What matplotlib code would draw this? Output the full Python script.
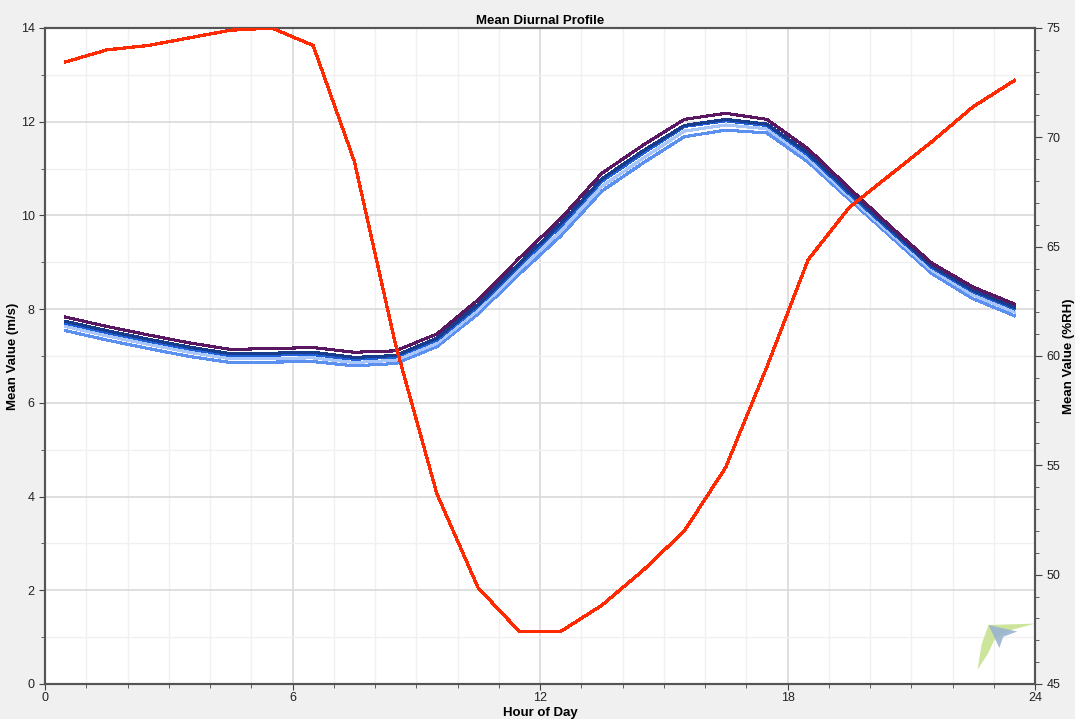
import numpy as np
import matplotlib.pyplot as plt
from matplotlib.ticker import MultipleLocator
from matplotlib.patches import Polygon

plt.rcParams['font.family'] = ['Liberation Sans', 'DejaVu Sans']

hours = [h + 0.5 for h in range(24)]

# wind speed (m/s) series, top to bottom
ws_purple = [7.83, 7.63, 7.45, 7.28, 7.14, 7.16, 7.18, 7.08, 7.11, 7.47, 8.20, 9.09,
             9.93, 10.90, 11.50, 12.05, 12.18, 12.05, 11.42, 10.58, 9.76, 8.98, 8.47, 8.11]
ws_navy = [7.74, 7.54, 7.36, 7.19, 7.05, 7.06, 7.08, 6.97, 7.01, 7.38, 8.10, 8.98,
           9.82, 10.78, 11.38, 11.92, 12.05, 11.95, 11.33, 10.50, 9.70, 8.92, 8.40, 8.04]
ws_blue = [7.70, 7.50, 7.32, 7.15, 7.01, 7.02, 7.03, 6.93, 6.98, 7.34, 8.06, 8.93,
           9.77, 10.73, 11.33, 11.90, 12.02, 11.92, 11.29, 10.46, 9.67, 8.89, 8.37, 8.01]
ws_light = [7.63, 7.43, 7.25, 7.08, 6.94, 6.95, 6.96, 6.86, 6.91, 7.27, 7.98, 8.84,
            9.66, 10.62, 11.22, 11.80, 11.93, 11.85, 11.22, 10.40, 9.61, 8.83, 8.30, 7.94]
ws_mid = [7.54, 7.34, 7.16, 6.99, 6.86, 6.87, 6.88, 6.79, 6.84, 7.20, 7.90, 8.75,
          9.56, 10.52, 11.12, 11.68, 11.82, 11.76, 11.14, 10.34, 9.55, 8.76, 8.22, 7.86]

# relative humidity (%RH)
rh = [73.45, 74.0, 74.2, 74.55, 74.9, 75.0, 74.2, 68.9, 60.5, 53.7, 49.4, 47.4,
      47.4, 48.6, 50.2, 52.0, 54.9, 59.5, 64.4, 66.8, 68.3, 69.8, 71.4, 72.6]

fig = plt.figure(figsize=(10.75, 7.19), dpi=100, facecolor='#f0f0f0')
ax = fig.add_axes([45 / 1075, 35 / 719, 990 / 1075, 656 / 719])
ax.set_facecolor('white')

for vals, col in [(ws_mid, '#5b8ff0'), (ws_light, '#a8c6fa'), (ws_blue, '#1f5fd8'),
                  (ws_navy, '#173d8c'), (ws_purple, '#5a1862')]:
    ax.plot(hours, vals, color=col, lw=1.5, antialiased=False, zorder=3)

ax.set_xlim(0, 24)
ax.set_ylim(0, 14)
ax.xaxis.set_major_locator(MultipleLocator(6))
ax.xaxis.set_minor_locator(MultipleLocator(1))
ax.yaxis.set_major_locator(MultipleLocator(2))
ax.yaxis.set_minor_locator(MultipleLocator(1))
ax.grid(which='major', color='#d9d9d9', lw=1.2, zorder=0)
ax.grid(which='minor', color='#f0f0f0', lw=1, zorder=0)
ax.set_axisbelow(True)
ax.tick_params(which='both', direction='out', colors='#444444', labelcolor='#222222',
               labelsize=9, length=3)
ax.tick_params(which='major', length=4)
ax.tick_params(axis='x', pad=2)
for s in ax.spines.values():
    s.set_color('#555555')
    s.set_linewidth(1.5)

ax.set_xlabel('Hour of Day', fontsize=9.5, fontweight='bold')
ax.xaxis.set_label_coords(0.5, -0.035)
ax.set_ylabel('Mean Value (m/s)', fontsize=9.5, fontweight='bold')
ax.yaxis.set_label_coords(-0.026, 0.5)
ax.set_title('Mean Diurnal Profile', fontsize=9.5, fontweight='bold', pad=3)

ax2 = ax.twinx()
ax2.plot(hours, rh, color='#ff2a00', lw=1.6, antialiased=False, zorder=4)
ax2.set_ylim(45, 75)
ax2.yaxis.set_major_locator(MultipleLocator(5))
ax2.yaxis.set_minor_locator(MultipleLocator(1))
ax2.tick_params(which='both', direction='out', colors='#444444', labelcolor='#222222',
                labelsize=9, length=3)
ax2.tick_params(which='major', length=5)
ax2.set_ylabel('Mean Value (%RH)', fontsize=9.5, fontweight='bold', rotation=90)
ax2.yaxis.set_label_coords(1.028, 0.5)
for s in ax2.spines.values():
    s.set_color('#555555')
    s.set_linewidth(1.5)

# small logo in the bottom right corner
logo_green = [(0.942, 0.022), (0.946, 0.060), (0.953, 0.090), (1.000, 0.092),
              (0.975, 0.082), (0.960, 0.070), (0.952, 0.045)]
logo_blue = [(0.953, 0.090), (0.964, 0.055), (0.968, 0.072), (0.982, 0.080)]
ax.add_patch(Polygon(logo_green, closed=True, transform=ax.transAxes,
                     facecolor='#c8e290', edgecolor='none', alpha=0.9, zorder=2))
ax.add_patch(Polygon(logo_blue, closed=True, transform=ax.transAxes,
                     facecolor='#9ab4cf', edgecolor='none', alpha=0.9, zorder=2))

fig.savefig('out.png', dpi=100, facecolor=fig.get_facecolor())
